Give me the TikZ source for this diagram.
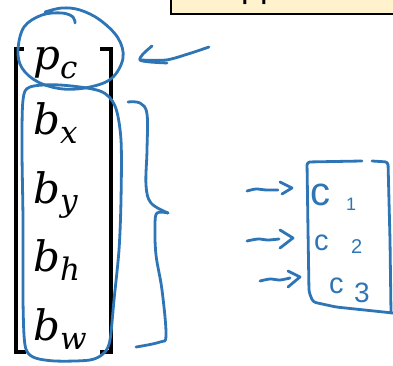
\documentclass[tikz,border=0pt]{standalone}
\usepackage{fontspec}
\setmainfont{DejaVu Serif}
\newfontfamily\labelfont{Liberation Sans}
\definecolor{handblue}{RGB}{46,117,182}
\definecolor{noteyellow}{RGB}{255,242,204}
\newcommand\vsub[1]{\raisebox{-9pt}{\fontsize{31}{31}\selectfont #1}}
\begin{document}
\begin{tikzpicture}[x=1pt,y=-1pt,
  hand/.style={draw=handblue, line width=2.8pt, line cap=round, line join=round},
  brk/.style={draw=black, line width=4pt},
  vec/.style={inner sep=0pt, anchor=base west, font=\fontsize{42}{42}\selectfont\itshape},
  lbl/.style={inner sep=0pt, anchor=base west, text=handblue},
  notebox/.style={draw=black, line width=2pt, fill=noteyellow}]
\useasboundingbox (0,0) rectangle (393,366);
\clip (0,0) rectangle (393,366);
% top note box (cut off)
\draw[notebox] (170.5,-10) rectangle (400,14.5);
\node[inner sep=0pt, anchor=base west, font=\labelfont\fontsize{34}{34}\selectfont] (toptext) at (241,-2) {pp};
% brackets
\draw[brk] (24,49) -- (16,49) -- (16,352) -- (26,352);
\draw[brk] (100,49) -- (110.5,49) -- (110.5,352) -- (100,352);
% vector entries
\node[vec] (pc) at (33,70) {p\vsub{c}};
\node[vec] (bx) at (33,135) {b\vsub{x}};
\node[vec] (by) at (33,203) {b\vsub{y}};
\node[vec] (bh) at (33,271) {b\vsub{h}};
\node[vec] (bw) at (33,340) {b\vsub{w}};
% ellipse round p_c
\draw[hand] plot[smooth, tension=0.6] coordinates {(75,23) (73,17) (62,13) (42,15) (24,27) (18,50) (22,68) (38,82) (63,89) (90,87) (112,78) (123,58) (118,38) (100,20) (80,10) (62,8) (45,12)};
% arrow to p_c
\coordinate (pcfrom) at (209,47);
\coordinate (pcto) at (140,60);
\draw[hand] plot[smooth] coordinates {(pcfrom) (188,54) (166,60) (pcto)};
\draw[hand] plot[smooth, tension=0.5] coordinates {(152,46) (143,54) (pcto) (150,62) (167,63)};
% rounded box round b's
\draw[hand] plot[smooth cycle, tension=0.5] coordinates {(30,87) (60,85) (100,91) (115,106) (121,140) (121,200) (119,250) (114,300) (110,340) (104,353) (90,360) (55,361) (33,357) (25,345) (23,300) (23,220) (22,150) (23,100)};
% brace
\draw[hand] plot[smooth, tension=0.6] coordinates {(128,102) (140,103) (147,114) (147,150) (146,185) (151,203) (168,213)};
\draw[hand] plot[smooth, tension=0.6] coordinates {(168,213) (157,213) (155,226) (156,255) (162,290) (166,335) (160,342) (136,347)};
% class labels
\node[lbl, font=\labelfont\fontsize{40}{40}\selectfont] (c1) at (310,205) {c};
\node[lbl, font=\labelfont\fontsize{18}{18}\selectfont] (n1) at (346,210) {1};
\node[lbl, font=\labelfont\fontsize{29}{29}\selectfont] (c2) at (314,250) {c};
\node[lbl, font=\labelfont\fontsize{20}{20}\selectfont] (n2) at (351,253) {2};
\node[lbl, font=\labelfont\fontsize{29}{29}\selectfont] (c3) at (329,293) {c};
\node[lbl, font=\labelfont\fontsize{28}{28}\selectfont] (n3) at (354,302) {3};
% class box
\draw[hand, rounded corners=3pt] (362,161) -- (307,162) -- (308,230) -- (309,292) -- (313,302) -- (336,307) -- (393,313);
\draw[hand, rounded corners=3pt] (372,161) -- (388,162) -- (390,240) -- (391,313);
% small arrows
\draw[hand] plot[smooth] coordinates {(247,191) (256,189) (266,190) (278,190)};
\draw[hand] (280,182) -- (292,188) -- (282,194);
\draw[hand] plot[smooth] coordinates {(247,241) (258,239) (268,240) (279,239)};
\draw[hand] (280,230) -- (293,238) -- (280,248);
\draw[hand] plot[smooth] coordinates {(260,281) (270,279) (280,280) (290,278)};
\draw[hand] (288,271) -- (300,277) -- (288,287);
\end{tikzpicture}
\end{document}
